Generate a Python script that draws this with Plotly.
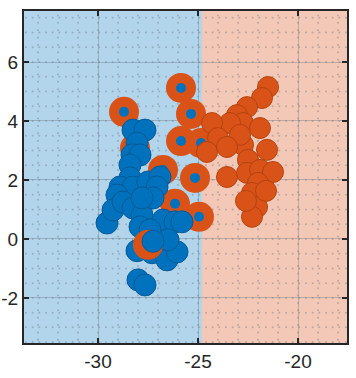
import numpy as np
import plotly.graph_objects as go

# ---- data ----
blue_x = [-28.25, -27.65, -28.05, -28.3, -27.9, -28.4, -28.4, -28.9, -28.25, -27.5, -26.9, -27.05,
          -29.05, -29.55, -29.25, -28.75, -28.25, -27.8, -27.9, -27.25, -26.75, -26.15, -25.8,
          -27.25, -28.05, -27.3, -26.55, -26.05, -28.0, -27.65, -27.4, -26.5, -27.8]
blue_y = [3.69, 3.69, 3.25, 2.85, 2.85, 2.51, 2.07, 1.76, 1.76, 1.93, 2.10, 1.76,
          1.49, 0.54, 0.98, 1.25, 1.05, 0.81, 0.41, 1.39, 0.64, 0.58, 0.58,
          -0.08, -0.40, -0.47, -0.71, -0.44, -1.39, -1.56, 0.31, -0.03, 1.39]

orange_x = [-21.5, -21.8, -22.55, -23.05, -22.75, -21.9, -23.4, -24.3, -24.0, -24.55, -22.75,
            -21.55, -22.5, -23.55, -22.55, -21.9, -21.25, -22.0, -22.3, -22.05, -22.3, -22.6,
            -21.6, -22.9, -23.55]
orange_y = [5.15, 4.78, 4.47, 4.20, 3.93, 3.76, 3.93, 3.93, 3.42, 2.95, 3.19,
            3.02, 2.68, 2.10, 2.24, 2.34, 2.27, 1.90, 1.56, 1.08, 0.75, 1.29,
            1.63, 3.53, 3.12]

# orange-class points predicted as the blue class
miss_x = [-28.7, -25.85, -25.35, -25.85, -25.15, -26.15, -24.95, -27.5, -28.15, -26.75, -24.85]
miss_y = [4.31, 5.12, 4.24, 3.32, 2.07, 1.19, 0.75, -0.20, 3.08, 2.34, 3.25]

# drawing order: ring 7 lies above the blue points, blue point 23 lies above it again
top_ring = [7]
top_blue = [23]

boundary_x = -24.8
x_range = [-33.7, -17.55]
y_range = [-3.53, 7.73]
x_ticks = [-30, -25, -20]
x_ticklabels = ["-30", "-25", "-20"]
y_ticks = [-2, 0, 2, 4, 6]
y_ticklabels = ["-2", "0", "2", "4", "6"]

BLUE = "#0072BD"
ORANGE = "#D95319"

fig = go.Figure()

# decorative prediction mesh dots
gx_h = np.arange(-33.6, -17.5, 1 / 3)
gy_h = np.arange(-3.5, 7.75, 0.5)
mx, my = np.meshgrid(gx_h, gy_h)
gx_v = np.arange(-33.0, -17.5, 1.0)
gy_v = np.arange(-3.42, 7.75, 0.25)
vx, vy = np.meshgrid(gx_v, gy_v)
dots_x = np.concatenate([mx.ravel(), vx.ravel()])
dots_y = np.concatenate([my.ravel(), vy.ravel()])
fig.add_trace(go.Scatter(x=dots_x, y=dots_y, mode="markers",
                         marker=dict(size=2, color="rgba(100,110,120,0.38)"),
                         hoverinfo="skip", showlegend=False))


def ring_traces(idx):
    xs = [miss_x[i] for i in idx]
    ys = [miss_y[i] for i in idx]
    fig.add_trace(go.Scatter(x=xs, y=ys, mode="markers",
                             marker=dict(size=30, color=ORANGE, line=dict(width=0)),
                             showlegend=False))
    fig.add_trace(go.Scatter(x=xs, y=ys, mode="markers",
                             marker=dict(size=10, color=BLUE, line=dict(width=0)),
                             showlegend=False))


def blue_trace(idx):
    fig.add_trace(go.Scatter(x=[blue_x[i] for i in idx], y=[blue_y[i] for i in idx],
                             mode="markers",
                             marker=dict(size=22, color=BLUE, line=dict(width=1, color="#075A96")),
                             showlegend=False))


ring_traces([i for i in range(len(miss_x)) if i not in top_ring])
fig.add_trace(go.Scatter(x=orange_x, y=orange_y, mode="markers",
                         marker=dict(size=21, color=ORANGE, line=dict(width=1, color="#B5420F")),
                         showlegend=False))
blue_trace([i for i in range(len(blue_x)) if i not in top_blue])
ring_traces(top_ring)
blue_trace(top_blue)

fig.add_shape(type="rect", x0=x_range[0], x1=boundary_x, y0=y_range[0], y1=y_range[1],
              fillcolor="#B3D5EC", line=dict(width=0), layer="below")
fig.add_shape(type="rect", x0=boundary_x, x1=x_range[1], y0=y_range[0], y1=y_range[1],
              fillcolor="#F4C8B6", line=dict(width=0), layer="below")

axis_common = dict(showline=True, linecolor="#262626", linewidth=2, mirror="ticks",
                   ticks="inside", ticklen=5, tickwidth=2, tickcolor="#262626",
                   showgrid=True, gridcolor="rgba(110,120,130,0.4)", gridwidth=1,
                   zeroline=False, automargin=False,
                   tickfont=dict(family="Liberation Sans, Arial", size=19, color="#262626"))

fig.update_xaxes(range=x_range, tickvals=x_ticks, ticktext=x_ticklabels, **axis_common)
fig.update_yaxes(range=y_range, tickvals=y_ticks, ticktext=y_ticklabels, **axis_common)

fig.update_layout(width=356, height=378, margin=dict(l=24, r=9, t=11, b=35),
                  paper_bgcolor="white", plot_bgcolor="white", showlegend=False)

fig.write_html("out.html", config={"displayModeBar": False},
               post_script="document.body.style.margin='0';document.body.style.overflow='hidden';")
